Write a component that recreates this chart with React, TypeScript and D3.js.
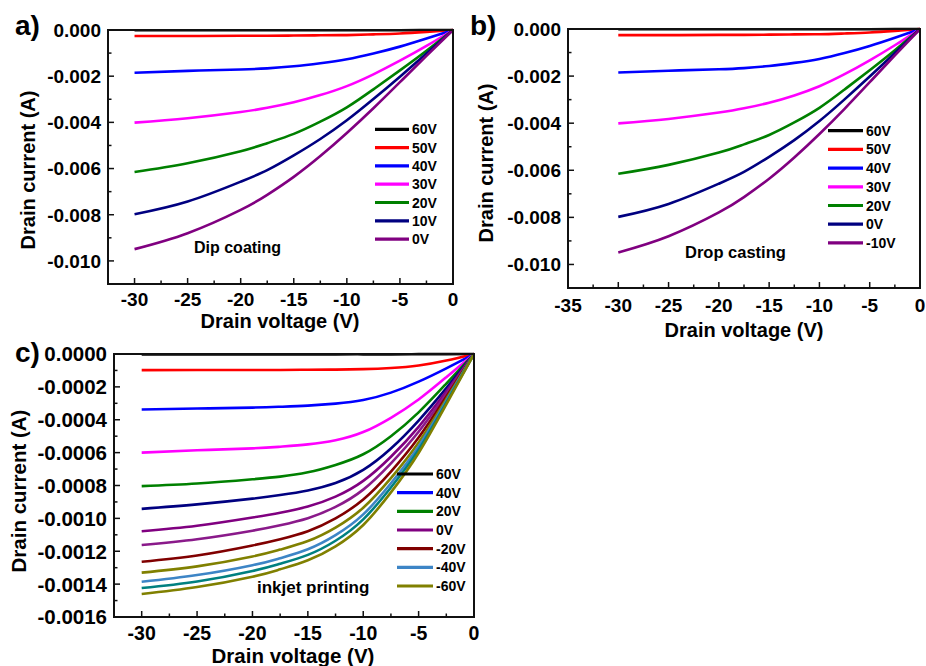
import { useEffect, useRef } from "react";
import * as d3 from "d3";

// drain voltage sample points (V)
const vds = [-30, -25, -20, -17.5, -15, -12.5, -10, -7.5, -5, -2.5, 0];

// panel a / b drain current (mA), one array per gate voltage
const dip60 = [-0.01, -0.01, -0.01, -0.01, -0.01, -0.01, -0.01, -0.01, -0.01, -0.005, 0];
const dip50 = [-0.26, -0.26, -0.25, -0.25, -0.24, -0.23, -0.22, -0.19, -0.15, -0.08, 0];
const dip40 = [-1.85, -1.77, -1.71, -1.66, -1.57, -1.44, -1.27, -1.02, -0.72, -0.37, 0];
const dip30 = [-4.01, -3.82, -3.55, -3.37, -3.13, -2.82, -2.43, -1.92, -1.33, -0.69, 0];
const dip20 = [-6.15, -5.77, -5.25, -4.9, -4.5, -3.97, -3.35, -2.57, -1.75, -0.9, 0];
const dip10 = [-7.98, -7.43, -6.57, -6.07, -5.43, -4.72, -3.91, -2.99, -2.02, -1.02, 0];
const dip0 = [-9.49, -8.8, -7.79, -7.14, -6.36, -5.46, -4.46, -3.39, -2.26, -1.12, 0];

// panel b traces are the same as panel a
const drop60 = dip60;
const drop50 = dip50;
const drop40 = dip40;
const drop30 = dip30;
const drop20 = dip20;
const dropM0 = dip10;
const dropM10 = dip0;

// panel c drain current (x1e-4 A)
const ink60 = [-0.02, -0.02, -0.02, -0.02, -0.02, -0.02, -0.02, -0.02, -0.01, -0.01, 0];
const ink50 = [-0.98, -0.97, -0.97, -0.97, -0.96, -0.95, -0.92, -0.85, -0.7, -0.4, 0];
const ink40 = [-3.38, -3.32, -3.26, -3.21, -3.14, -3.02, -2.8, -2.35, -1.68, -0.87, 0];
const ink30 = [-6.0, -5.86, -5.74, -5.64, -5.5, -5.25, -4.75, -3.88, -2.77, -1.41, 0];
const ink20 = [-8.04, -7.88, -7.62, -7.46, -7.2, -6.75, -6.1, -5.0, -3.55, -1.8, 0];
const ink10 = [-9.42, -9.15, -8.8, -8.58, -8.3, -7.85, -7.05, -5.75, -4.05, -2.08, 0];
const ink0 = [-10.78, -10.45, -9.95, -9.66, -9.28, -8.68, -7.72, -6.25, -4.43, -2.27, 0];
const inkM10 = [-11.62, -11.27, -10.75, -10.42, -9.99, -9.3, -8.25, -6.65, -4.73, -2.42, 0];
const inkM20 = [-12.64, -12.26, -11.65, -11.27, -10.78, -10.0, -8.85, -7.15, -5.08, -2.6, 0];
const inkM30 = [-13.3, -12.92, -12.32, -11.9, -11.38, -10.56, -9.35, -7.55, -5.38, -2.74, 0];
const inkM40 = [-13.86, -13.45, -12.85, -12.42, -11.88, -11.02, -9.76, -7.86, -5.62, -2.86, 0];
const inkM50 = [-14.24, -13.84, -13.2, -12.76, -12.22, -11.36, -10.06, -8.12, -5.82, -2.96, 0];
const inkM60 = [-14.6, -14.18, -13.55, -13.1, -12.55, -11.7, -10.4, -8.42, -6.02, -3.06, 0];

// tick values and labels
const xTicksA = [-30, -25, -20, -15, -10, -5, 0];
const xMinorA = [-27.5, -22.5, -17.5, -12.5, -7.5, -2.5];
const xTicksB = [-35, -30, -25, -20, -15, -10, -5, 0];
const xMinorB = [-32.5, -27.5, -22.5, -17.5, -12.5, -7.5, -2.5];
const yTicksAB = [0, -0.002, -0.004, -0.006, -0.008, -0.01];
const yLabelsAB = ["0.000", "-0.002", "-0.004", "-0.006", "-0.008", "-0.010"];
const yMinorAB = [-0.001, -0.003, -0.005, -0.007, -0.009];
const yTicksC = [0, -0.0002, -0.0004, -0.0006, -0.0008, -0.001, -0.0012, -0.0014, -0.0016];
const yLabelsC = ["0.0000", "-0.0002", "-0.0004", "-0.0006", "-0.0008", "-0.0010", "-0.0012", "-0.0014", "-0.0016"];
const yMinorC = [-0.0001, -0.0003, -0.0005, -0.0007, -0.0009, -0.0011, -0.0013, -0.0015];

const FONT = "'Liberation Sans', Arial, sans-serif";

const panels = [
  {
    letter: "a)", letterX: 15, letterY: 35,
    frame: { x0: 108, x1: 453, y0: 30, y1: 284 },
    xDomain: [-32.5, 0], yDomain: [-0.011, 0],
    xTicks: xTicksA, xMinor: xMinorA,
    yTicks: yTicksAB, yLabels: yLabelsAB, yMinor: yMinorAB,
    tickFont: 19, yTickFont: 19, xLabelY: 306,
    xTitle: [280, 327.5], yTitle: [35, 170], titleFont: 20,
    scale: 1e-3,
    series: [
      { name: "60V", v: dip60, c: "#000000" },
      { name: "50V", v: dip50, c: "#ff0000" },
      { name: "40V", v: dip40, c: "#0000ff" },
      { name: "30V", v: dip30, c: "#ff00ff" },
      { name: "20V", v: dip20, c: "#008000" },
      { name: "10V", v: dip10, c: "#000080" },
      { name: "0V", v: dip0, c: "#800080" },
    ],
    legend: { x: 375, y: 129.3, dy: 18.3, len: 34, all: true },
    note: "Dip coating", noteX: 194, noteY: 253, noteFont: 16,
  },
  {
    letter: "b)", letterX: 470, letterY: 35,
    frame: { x0: 568, x1: 920, y0: 29, y1: 288 },
    xDomain: [-35, 0], yDomain: [-0.011, 0],
    xTicks: xTicksB, xMinor: xMinorB,
    yTicks: yTicksAB, yLabels: yLabelsAB, yMinor: yMinorAB,
    tickFont: 19, yTickFont: 19, xLabelY: 312,
    xTitle: [744, 337], yTitle: [493, 163], titleFont: 20,
    scale: 1e-3,
    series: [
      { name: "60V", v: drop60, c: "#000000" },
      { name: "50V", v: drop50, c: "#ff0000" },
      { name: "40V", v: drop40, c: "#0000ff" },
      { name: "30V", v: drop30, c: "#ff00ff" },
      { name: "20V", v: drop20, c: "#008000" },
      { name: "0V", v: dropM0, c: "#000080" },
      { name: "-10V", v: dropM10, c: "#800080" },
    ],
    legend: { x: 828, y: 130.7, dy: 18.7, len: 35, all: true },
    note: "Drop casting", noteX: 685, noteY: 258, noteFont: 16.5,
  },
  {
    letter: "c)", letterX: 15, letterY: 362,
    frame: { x0: 114, x1: 474, y0: 354, y1: 617 },
    xDomain: [-32.5, 0], yDomain: [-0.0016, 0],
    xTicks: xTicksA, xMinor: xMinorA,
    yTicks: yTicksC, yLabels: yLabelsC, yMinor: yMinorC,
    tickFont: 19.5, yTickFont: 20.5, xLabelY: 640,
    xTitle: [293, 663], yTitle: [26, 491], titleFont: 20.5,
    scale: 1e-4,
    series: [
      { name: "60V", v: ink60, c: "#000000" },
      { name: "50V", v: ink50, c: "#ff0000" },
      { name: "40V", v: ink40, c: "#0000ff" },
      { name: "30V", v: ink30, c: "#ff00ff" },
      { name: "20V", v: ink20, c: "#008000" },
      { name: "10V", v: ink10, c: "#000080" },
      { name: "0V", v: ink0, c: "#800080" },
      { name: "-10V", v: inkM10, c: "#8a1a8a" },
      { name: "-20V", v: inkM20, c: "#800000" },
      { name: "-30V", v: inkM30, c: "#808000" },
      { name: "-40V", v: inkM40, c: "#3d85c6" },
      { name: "-50V", v: inkM50, c: "#008080" },
      { name: "-60V", v: inkM60, c: "#808000" },
    ],
    legend: { x: 397, y: 474, dy: 18.67, len: 36, all: false },
    note: "inkjet printing", noteX: 257, noteY: 593, noteFont: 17,
  },
];

const App = () => {
  const svgRef = useRef<SVGSVGElement>(null);

  useEffect(() => {
    const svg = d3.select(svgRef.current);
    svg.selectAll("*").remove();
    svg.append("rect").attr("width", 926).attr("height", 666).attr("fill", "#fff");

    panels.forEach((p) => {
      const g = svg.append("g");
      const { x0, x1, y0, y1 } = p.frame;
      const x = d3.scaleLinear().domain(p.xDomain).range([x0, x1]);
      const y = d3.scaleLinear().domain(p.yDomain).range([y1, y0]);

      // curves
      const line = d3.line<number>()
        .x((_, i) => x(vds[i]))
        .y((d) => y(d * p.scale))
        .curve(d3.curveNatural);

      g.selectAll(".curve")
        .data(p.series)
        .join("path")
        .attr("class", "curve")
        .attr("d", (s) => line(s.v))
        .attr("fill", "none")
        .attr("stroke", (s) => s.c)
        .attr("stroke-width", 2.6)
        .attr("stroke-linejoin", "round");

      // frame
      g.append("rect")
        .attr("x", x0).attr("y", y0)
        .attr("width", x1 - x0).attr("height", y1 - y0)
        .attr("fill", "none").attr("stroke", "#111").attr("stroke-width", 2);

      // inward ticks
      const tick = (vals: number[], len: number, axis: "x" | "y") =>
        g.selectAll(null)
          .data(vals)
          .join("line")
          .attr("x1", (d) => (axis === "x" ? x(d) : x0))
          .attr("x2", (d) => (axis === "x" ? x(d) : x0 + len))
          .attr("y1", (d) => (axis === "x" ? y1 : y(d)))
          .attr("y2", (d) => (axis === "x" ? y1 - len : y(d)))
          .attr("stroke", "#111")
          .attr("stroke-width", 1.5);
      tick(p.xTicks, 6, "x");
      tick(p.xMinor, 3.5, "x");
      tick(p.yTicks, 6, "y");
      tick(p.yMinor, 3.5, "y");

      // tick labels
      g.selectAll(null)
        .data(p.xTicks)
        .join("text")
        .attr("x", (d) => x(d))
        .attr("y", p.xLabelY)
        .attr("text-anchor", "middle")
        .style("font", `bold ${p.tickFont}px ${FONT}`)
        .text((d) => String(d));

      g.selectAll(null)
        .data(p.yTicks)
        .join("text")
        .attr("x", x0 - 7)
        .attr("y", (d) => y(d))
        .attr("dy", "0.36em")
        .attr("text-anchor", "end")
        .style("font", `bold ${p.yTickFont}px ${FONT}`)
        .text((_, i) => p.yLabels[i]);

      // axis titles
      g.append("text")
        .attr("x", p.xTitle[0]).attr("y", p.xTitle[1])
        .attr("text-anchor", "middle")
        .style("font", `bold ${p.titleFont}px ${FONT}`)
        .text("Drain voltage (V)");

      g.append("text")
        .attr("transform", `translate(${p.yTitle[0]},${p.yTitle[1]}) rotate(-90)`)
        .attr("text-anchor", "middle")
        .style("font", `bold ${p.titleFont}px ${FONT}`)
        .text("Drain current (A)");

      // panel letter
      g.append("text")
        .attr("x", p.letterX).attr("y", p.letterY)
        .style("font", `bold 28px ${FONT}`)
        .text(p.letter);

      // legend (panel c lists every other trace)
      const items = p.legend.all ? p.series : p.series.filter((_, i) => i % 2 === 0);
      const lg = g.append("g");
      items.forEach((s, i) => {
        const ly = p.legend.y + i * p.legend.dy;
        lg.append("line")
          .attr("x1", p.legend.x).attr("x2", p.legend.x + p.legend.len)
          .attr("y1", ly).attr("y2", ly)
          .attr("stroke", s.c).attr("stroke-width", 3.2);
        lg.append("text")
          .attr("x", p.legend.x + p.legend.len + 3).attr("y", ly)
          .attr("dy", "0.36em")
          .style("font", `bold 14px ${FONT}`)
          .text(s.name);
      });

      // annotation
      g.append("text")
        .attr("x", p.noteX).attr("y", p.noteY)
        .style("font", `bold ${p.noteFont}px ${FONT}`)
        .text(p.note);
    });
  }, []);

  return (
    <div style={{ position: "absolute", left: 0, top: 0 }}>
      <svg ref={svgRef} width={926} height={666}></svg>
    </div>
  );
};

export default App;
